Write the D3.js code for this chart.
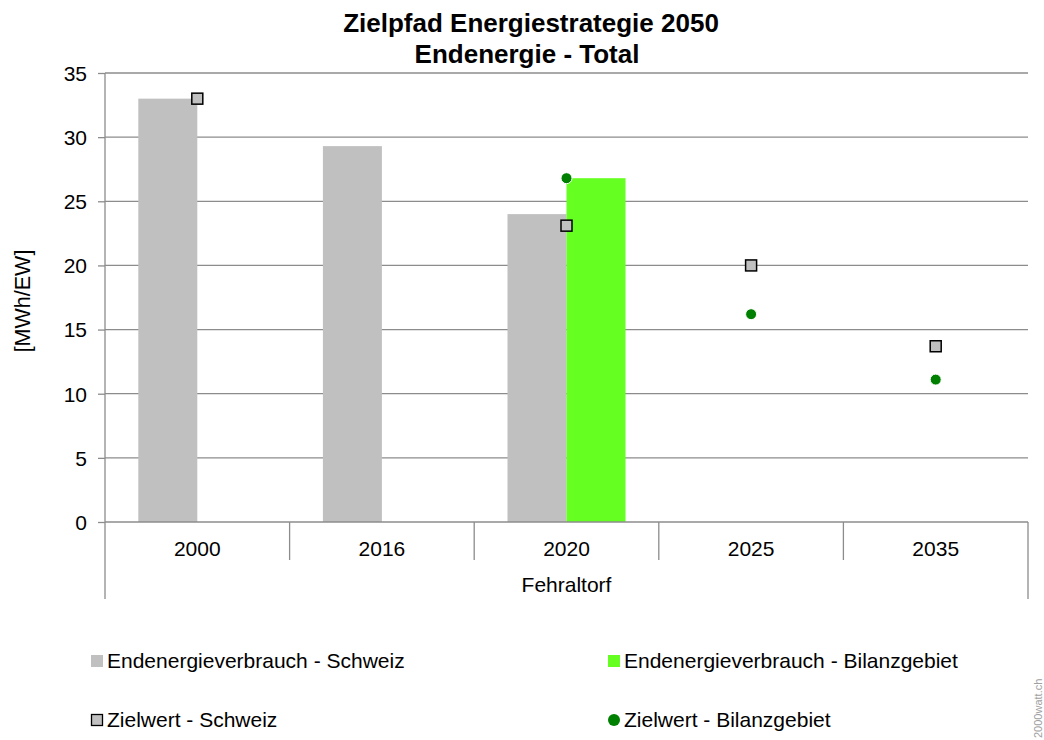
<!DOCTYPE html>
<html><head><meta charset="utf-8">
<script src="https://cdn.jsdelivr.net/npm/d3@7"></script>
<style>body{margin:0;background:#fff}svg{display:block;font-family:"Liberation Sans",Arial,sans-serif}</style>
</head><body>
<svg id="c" width="1044" height="740"></svg>
<script>
const categories = ["2000","2016","2020","2025","2035"];
const verbrauchSchweiz = [33.0, 29.3, 24.0, null, null];
const verbrauchBilanz = [null, null, 26.8, null, null];
const zielSchweiz = [33.0, null, 23.1, 20.0, 13.7];
const zielBilanz = [null, null, 26.8, 16.2, 11.1];
const yTicks = [0,5,10,15,20,25,30,35];
const titleLines = ["Zielpfad Energiestrategie 2050","Endenergie - Total"];
const groupLabel = "Fehraltorf";
const yLabel = "[MWh/EW]";
const legendItems = ["Endenergieverbrauch - Schweiz","Endenergieverbrauch - Bilanzgebiet","Zielwert - Schweiz","Zielwert - Bilanzgebiet"];

const svg = d3.select("#c");
const L=105, R=1028, T=73, B=522;
const axisCol="#8c8c8c";
const FF = "'Liberation Sans',Arial,sans-serif";
const x = d3.scaleBand().domain(categories).range([L,R]).paddingInner(0).paddingOuter(0);
const y = d3.scaleLinear().domain([0,35]).range([B,T]);
const bw = 59;

// gridlines
svg.append("g").selectAll("line").data(yTicks.filter(d=>d>0)).join("line")
  .attr("x1",L).attr("x2",R).attr("y1",d=>y(d)).attr("y2",d=>y(d))
  .attr("stroke",axisCol).attr("stroke-width",1.3);

// bars
const cx = c => x(c)+x.bandwidth()/2;
svg.append("g").selectAll("rect").data(categories.map((c,i)=>({c,v:verbrauchSchweiz[i]})).filter(d=>d.v!=null)).join("rect")
  .attr("x",d=>cx(d.c)-bw).attr("width",bw).attr("y",d=>y(d.v)).attr("height",d=>B-y(d.v)).attr("fill","#c0c0c0");
svg.append("g").selectAll("rect").data(categories.map((c,i)=>({c,v:verbrauchBilanz[i]})).filter(d=>d.v!=null)).join("rect")
  .attr("x",d=>cx(d.c)).attr("width",bw).attr("y",d=>y(d.v)).attr("height",d=>B-y(d.v)).attr("fill","#66ff22");

// y axis
const ya = d3.axisLeft(y).tickValues(yTicks).tickSize(7).tickFormat(d3.format("d"));
const yg = svg.append("g").attr("transform",`translate(${L},0)`).call(ya);
yg.select(".domain").remove();
yg.selectAll(".tick line").attr("stroke",axisCol).attr("stroke-width",1.3);
yg.selectAll(".tick text").attr("font-size",21).attr("fill","#000").attr("x",-18).attr("dy","0.35em")
  .style("font-family",FF);
svg.append("line").attr("x1",L).attr("x2",L).attr("y1",T).attr("y2",599).attr("stroke",axisCol).attr("stroke-width",1.3);
svg.append("line").attr("x1",R).attr("x2",R).attr("y1",B).attr("y2",599).attr("stroke",axisCol).attr("stroke-width",1.3);
svg.append("line").attr("x1",L).attr("x2",R).attr("y1",B).attr("y2",B).attr("stroke",axisCol).attr("stroke-width",1.3);

// x axis
const xa = d3.axisBottom(x).tickSize(0).tickSizeOuter(0);
const xg = svg.append("g").attr("transform",`translate(0,${B})`).call(xa);
xg.select(".domain").remove();
xg.selectAll(".tick text").attr("font-size",21).attr("fill","#000").attr("dy",0).attr("y",34)
  .style("font-family",FF);
svg.append("g").selectAll("line").data(categories.slice(1)).join("line")
  .attr("x1",d=>x(d)).attr("x2",d=>x(d)).attr("y1",B).attr("y2",560).attr("stroke",axisCol).attr("stroke-width",1.3);
svg.append("text").attr("x",(L+R)/2).attr("y",592).attr("text-anchor","middle").attr("font-size",21).text(groupLabel);

// markers
svg.append("g").selectAll("rect").data(categories.map((c,i)=>({c,v:zielSchweiz[i]})).filter(d=>d.v!=null)).join("rect")
  .attr("x",d=>cx(d.c)-5.5).attr("y",d=>y(d.v)-5.5).attr("width",11).attr("height",11)
  .attr("fill","#c0c0c0").attr("stroke","#000").attr("stroke-width",1.5);
svg.append("g").selectAll("circle").data(categories.map((c,i)=>({c,v:zielBilanz[i]})).filter(d=>d.v!=null)).join("circle")
  .attr("cx",d=>cx(d.c)).attr("cy",d=>y(d.v)).attr("r",5.5)
  .attr("fill","#008000").attr("stroke","#fff").attr("stroke-width",1);

// title
svg.append("text").attr("x",531).attr("y",32).attr("text-anchor","middle").attr("font-size",26).attr("font-weight","bold").text(titleLines[0]);
svg.append("text").attr("x",527).attr("y",63).attr("text-anchor","middle").attr("font-size",26).attr("font-weight","bold").text(titleLines[1]);

// y label
svg.append("text").attr("transform","translate(30,301) rotate(-90)").attr("text-anchor","middle").attr("font-size",21.5).text(yLabel);

// legend
const lg = svg.append("g");
const pos = [[91,661],[608,661],[91,720],[608,720]];
legendItems.forEach((t,i)=>{
  const [lx,ly]=pos[i];
  if(i===0) lg.append("rect").attr("x",lx).attr("y",ly-6).attr("width",12).attr("height",12).attr("fill","#c0c0c0");
  if(i===1) lg.append("rect").attr("x",lx).attr("y",ly-6).attr("width",12).attr("height",12).attr("fill","#66ff22");
  if(i===2) lg.append("rect").attr("x",lx+0.5).attr("y",ly-5.5).attr("width",11).attr("height",11).attr("fill","#c0c0c0").attr("stroke","#000").attr("stroke-width",1.3);
  if(i===3) lg.append("circle").attr("cx",lx+6).attr("cy",ly).attr("r",6).attr("fill","#008000");
  lg.append("text").attr("x",lx+16).attr("y",ly).attr("dy","0.35em").attr("font-size",21).text(t);
});

// watermark
svg.append("text").attr("transform","translate(1042,738) rotate(-90)").attr("font-size",11).attr("fill","#a0a0a0").text("2000watt.ch");
</script>
</body></html>
